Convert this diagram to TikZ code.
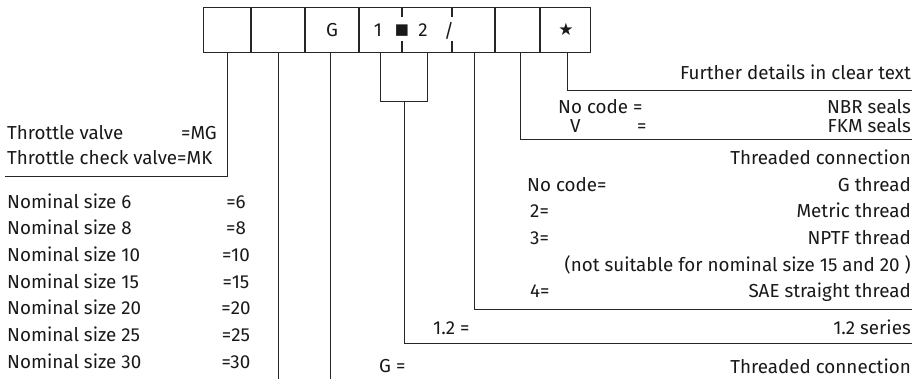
\documentclass[tikz,border=0pt]{standalone}
\usepackage{fontspec}
\setmainfont{Fira Sans}
\newfontfamily\symfont{DejaVu Sans}
\begin{document}
\begin{tikzpicture}[x=1pt,y=-1pt,
  txt/.style={inner sep=0pt,font=\fontsize{18.8}{21}\selectfont,text=black!90,text height=12.9pt,text depth=0pt},
  lt/.style={txt,anchor=west},
  rt/.style={txt,anchor=east},
  ct/.style={txt,anchor=center},
  boxline/.style={draw=black!85,line width=1.1pt},
  conn/.style={draw=black!85,line width=0.9pt}]
\useasboundingbox (0,0) rectangle (921,379);
% code box
\node[boxline,minimum width=387pt,minimum height=45pt,inner sep=0pt,anchor=north west] (box) at (203,7) {};
\foreach \xx in {251,305,359,495,540}{\draw[boxline] (\xx,7) -- (\xx,52);}
\foreach \xx in {402,452}{\draw[boxline] (\xx,7) -- (\xx,17); \draw[boxline] (\xx,41) -- (\xx,52);}
\node[ct] (tG) at (332,30) {G};
\node[ct] (t1) at (378,30) {1};
\node[ct,font=\symfont\fontsize{15}{16}\selectfont,text height=9pt] (tsq) at (402,30) {■};
\node[ct] (t2) at (423,30) {2};
\node[ct] (tsl) at (449,31) {/};
\node[ct,font=\symfont\fontsize{17}{18}\selectfont,text height=11pt] (tst) at (566,30) {★};
% coordinates on box bottom
\foreach \n/\xx in {a/227,b/278,c/330,d/380,e/427,f/474,g/520,h/567}{\coordinate (s\n) at (\xx,52);}
% star line
\coordinate (h1) at (567,90); \coordinate (h2) at (912,90);
\draw[conn] (sh) -- (h1) -- (h2);
\node[rt] (fd) at (911,73) {Further details in clear text};
% seals
\coordinate (g1) at (520,139); \coordinate (g2) at (912,139);
\draw[conn] (sg) -- (g1) -- (g2);
\node[lt] (nc1) at (558,107) {No code =};
\node[rt] (nbr) at (911,107) {NBR seals};
\node[lt] (v) at (570,126) {V};
\node[lt] (veq) at (637,126) {=};
\node[rt] (fkm) at (911,126) {FKM seals};
% threaded connection
\coordinate (f1) at (474,309); \coordinate (f2) at (912,309);
\draw[conn] (sf) -- (f1) -- (f2);
\node[rt] (tc1) at (911,158) {Threaded connection};
\node[lt] (nc2) at (527,185) {No code=};
\node[rt] (gth) at (911,185) {G thread};
\node[lt] (c2) at (530,211.5) {2=};
\node[rt] (mth) at (911,211.5) {Metric thread};
\node[lt] (c3) at (530,238) {3=};
\node[rt] (nth) at (911,238) {NPTF thread};
\node[rt] (nsu) at (911,265) {(not suitable for nominal size 15 and 20 )};
\node[lt] (c4) at (530,291.5) {4=};
\node[rt] (sae) at (911,291.5) {SAE straight thread};
% series
\coordinate (d1) at (380,101); \coordinate (e1) at (427,101);
\coordinate (m1) at (404,101); \coordinate (m2) at (404,343); \coordinate (m3) at (912,343);
\draw[conn] (sd) -- (d1) -- (e1) -- (se);
\draw[conn] (m1) -- (m2) -- (m3);
\node[lt] (c12) at (433,328) {1.2 =};
\node[rt] (ser) at (911,328) {1.2 series};
% G
\coordinate (c1) at (330,379);
\draw[conn] (sc) -- (c1);
\node[lt] (cg) at (379,366) {G =};
\node[rt] (tc2) at (911,367) {Threaded connection};
% nominal size
\coordinate (b1) at (278,379);
\draw[conn] (sb) -- (b1);
\foreach \k/\v in {0/6,1/8,2/10,3/15,4/20,5/25,6/30}{
  \node[lt] (ns\v) at (7,201.7+26.67*\k) {Nominal size \v};
  \node[ct] (nv\v) at (236,201.7+26.67*\k) {=\v};
}
% valve type
\coordinate (a1) at (227,176); \coordinate (a2) at (5,176);
\draw[conn] (sa) -- (a1) -- (a2);
\node[lt] (tv) at (7,133) {Throttle valve};
\node[rt] (mg) at (217,133) {=MG};
\node[lt] (tcv) at (7,158) {Throttle check valve=MK};
\end{tikzpicture}
\end{document}
